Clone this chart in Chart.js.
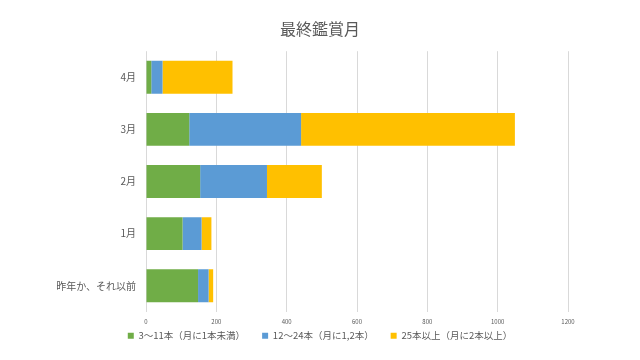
<!DOCTYPE html>
<html><head><meta charset="utf-8">
<script src="https://cdn.jsdelivr.net/npm/chart.js@4/dist/chart.umd.min.js"></script>
<style>html,body{margin:0;padding:0;background:#fff}#wrap{width:640px;height:360px}</style>
</head><body><div id="wrap"><canvas id="c" width="640" height="360"></canvas></div>
<script>
const categories = ["4月", "3月", "2月", "1月", "昨年か、それ以前"];
const seriesNames = ["3～11本（月に1本未満）", "12～24本（月に1,2本）", "25本以上（月に2本以上）"];
const lowValues = [15, 123, 154, 104, 148];
const midValues = [32, 318, 190, 54, 30];
const highValues = [199, 608, 156, 28, 13];
const xTicks = [0, 200, 400, 600, 800, 1000, 1200];
const colors = ["#70AD47", "#5B9BD5", "#FFC000"];
const font = "'Noto Sans CJK JP', 'Noto Sans', sans-serif";

const recenter = {
  id: 'recenter',
  afterInit(chart) {
    const lg = chart.legend;
    if (lg && !lg._patched) {
      const orig = lg.fit.bind(lg);
      lg.fit = function () { orig(); this.height = 14; };
      lg._patched = true;
    }
  },
  afterLayout(chart) {
    const lg = chart.legend;
    if (lg) { lg.left = 0; lg.right = 640; lg.width = 640; lg.top = 314; lg.bottom = 360; lg.height = 46; }
    const t = chart.titleBlock;
    if (t) { t.left = 0; t.right = 640; t.width = 640; }
  }
};

new Chart(document.getElementById('c'), {
  type: 'bar',
  data: {
    labels: categories,
    datasets: [lowValues, midValues, highValues].map((d, i) => ({
      label: seriesNames[i], data: d, backgroundColor: colors[i],
      barPercentage: 0.63, categoryPercentage: 1.0
    }))
  },
  plugins: [recenter],
  options: {
    indexAxis: 'y', responsive: false, animation: false,
    layout: { padding: { left: 0, right: 72, top: 19, bottom: 15 } },
    plugins: {
      title: { display: true, text: '最終鑑賞月', color: '#595959',
        font: { family: font, size: 16, weight: 'normal' }, padding: { top: 0, bottom: 13 } },
      legend: { position: 'bottom',
        labels: { boxWidth: 6, boxHeight: 6, color: '#595959', padding: 17,
          font: { family: font, size: 9.5 } } },
      tooltip: { enabled: false }
    },
    scales: {
      x: { stacked: true, min: 0, max: 1200,
        afterBuildTicks: s => { s.ticks = xTicks.map(v => ({ value: v })); },
        grid: { color: '#d9d9d9', drawTicks: false },
        border: { display: false },
        ticks: { color: '#595959', padding: 6, font: { family: font, size: 6 }, callback: v => String(v) } },
      y: { stacked: true,
        afterFit: s => { s.width = 146; },
        grid: { display: false, drawTicks: false },
        border: { display: false },
        ticks: { color: '#595959', padding: 10, font: { family: font, size: 10 } } }
    }
  }
});
</script></body></html>
